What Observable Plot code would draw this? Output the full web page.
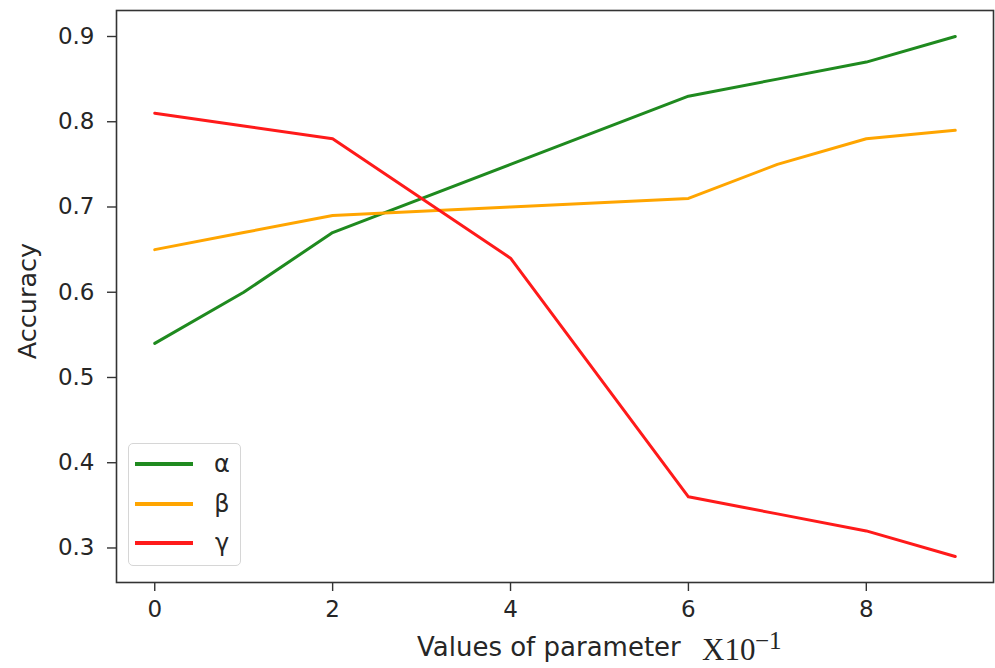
<!DOCTYPE html>
<html>
<head>
<meta charset="utf-8">
<script src="https://cdn.jsdelivr.net/npm/d3@7"></script>
<script src="https://cdn.jsdelivr.net/npm/@observablehq/plot@0.6"></script>
<style>
  html, body { margin: 0; padding: 0; background: #fff; }
  #wrap { position: relative; width: 995px; height: 668px; }
  #legend {
    position: absolute; left: 128px; top: 443px; width: 113px; height: 123px;
    border: 1.5px solid #d6d6d6; border-radius: 5px; background: rgba(255,255,255,0.8);
    box-sizing: border-box; font-family: "DejaVu Sans", sans-serif; font-size: 24px; color: #262626;
  }
  .row { position: absolute; left: 6px; height: 30px; display: flex; align-items: center; }
  .sw { width: 58px; height: 3.5px; }
  .lab { position: absolute; left: 81px; width: 24px; text-align: center; }
</style>
</head>
<body>
<div id="wrap"></div>
<script>
// Data
const xValues = [0, 1, 2, 4, 6, 7, 8, 9];
const alphaValues = [0.54, 0.60, 0.67, 0.75, 0.83, 0.85, 0.87, 0.90];
const betaValues  = [0.65, 0.67, 0.69, 0.70, 0.71, 0.75, 0.78, 0.79];
const gammaValues = [0.81, 0.795, 0.78, 0.64, 0.36, 0.34, 0.32, 0.29];
const seriesNames = ["α", "β", "γ"];
const seriesColors = ["#1f8a1f", "#ffa500", "#ff1a1a"];
const xTicks = [0, 2, 4, 6, 8];
const yTicks = [0.3, 0.4, 0.5, 0.6, 0.7, 0.8, 0.9];

const seriesValues = [alphaValues, betaValues, gammaValues];
const rows = seriesNames.flatMap((name, i) =>
  xValues.map((x, j) => ({series: name, x, y: seriesValues[i][j]}))
);

const plot = Plot.plot({
  width: 995,
  height: 668,
  marginLeft: 116,
  marginRight: 2,
  marginTop: 10,
  marginBottom: 86,
  style: {fontFamily: "DejaVu Sans, sans-serif", fontSize: "23px", color: "#262626", background: "#fff"},
  x: {domain: [-0.43, 9.43]},
  y: {domain: [0.2595, 0.9305]},
  color: {domain: seriesNames, range: seriesColors},
  marks: [
    Plot.line(rows, {x: "x", y: "y", z: "series", stroke: "series", strokeWidth: 3, strokeLinejoin: "round", strokeLinecap: "round"}),
    Plot.frame({stroke: "#333", strokeWidth: 1.6}),
    Plot.axisX({ticks: xTicks, tickSize: 9, tickPadding: 9, tickFormat: d3.format("d"), label: null, stroke: "#333", strokeWidth: 1.4, fontSize: 23}),
    Plot.axisY({ticks: yTicks, tickSize: 9, tickPadding: 13, tickFormat: d3.format(".1f"), label: null, stroke: "#333", strokeWidth: 1.4, fontSize: 23})
  ]
});

const wrap = document.getElementById("wrap");
wrap.appendChild(plot);

// Axis labels
const svg = d3.select(plot);
svg.append("text")
  .attr("transform", "translate(27,301) rotate(-90)")
  .attr("text-anchor", "middle")
  .attr("dominant-baseline", "central")
  .attr("font-family", "DejaVu Sans, sans-serif")
  .attr("font-size", 25.5)
  .attr("fill", "#262626")
  .text("Accuracy");
svg.append("text")
  .attr("x", 417).attr("y", 656)
  .attr("text-anchor", "start")
  .attr("font-family", "DejaVu Sans, sans-serif")
  .attr("font-size", 26)
  .attr("fill", "#262626")
  .text("Values of parameter");
svg.append("text")
  .attr("x", 702).attr("y", 660)
  .attr("text-anchor", "start")
  .attr("font-family", "Liberation Serif, serif")
  .attr("font-size", 31)
  .attr("fill", "#262626")
  .text("X10");
svg.append("text")
  .attr("x", 755).attr("y", 649)
  .attr("text-anchor", "start")
  .attr("font-family", "Liberation Serif, serif")
  .attr("font-size", 25)
  .attr("fill", "#262626")
  .text("−1");

// Legend overlay
const legend = document.createElement("div");
legend.id = "legend";
const rowTops = [5, 45, 84];
seriesNames.forEach((name, i) => {
  const r = document.createElement("div");
  r.className = "row";
  r.style.top = rowTops[i] + "px";
  const sw = document.createElement("div");
  sw.className = "sw";
  sw.style.background = seriesColors[i];
  r.appendChild(sw);
  legend.appendChild(r);
  const lab = document.createElement("div");
  lab.className = "lab";
  lab.style.top = (rowTops[i] + 1) + "px";
  lab.textContent = name;
  legend.appendChild(lab);
});
wrap.appendChild(legend);
</script>
</body>
</html>
